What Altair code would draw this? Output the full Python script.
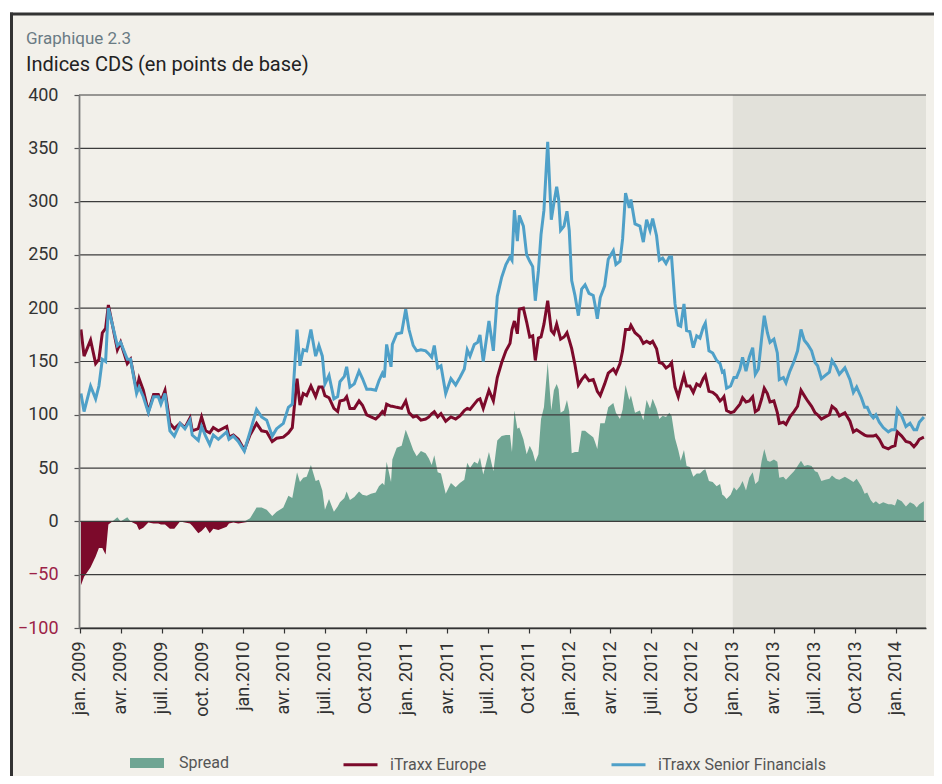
import json
import altair as alt
import pandas as pd

# ---- data (decimal years since Jan 2009, values in basis points) ----
t_offset = [
    0.006, 0.025, 0.065, 0.096, 0.116, 0.137, 0.157, 0.174, 0.198, 0.229, 0.249, 0.290, 0.310,
    0.347, 0.362, 0.388, 0.419, 0.451, 0.480, 0.496, 0.521, 0.551, 0.578, 0.613, 0.643, 0.674,
    0.688, 0.725, 0.745, 0.770, 0.795, 0.817, 0.848, 0.899, 0.913, 0.940, 0.970, 1.007, 1.042,
    1.082, 1.113, 1.144, 1.178, 1.205, 1.246, 1.277,
    1.301, 1.330, 1.348, 1.368, 1.389, 1.415, 1.444, 1.464, 1.485, 1.501, 1.526, 1.556, 1.579,
    1.593, 1.620, 1.634, 1.654, 1.681, 1.710, 1.731, 1.757, 1.783, 1.812, 1.832, 1.853, 1.865,
    1.879, 1.906, 1.914, 1.941, 1.971, 1.996, 2.016, 2.042, 2.063, 2.089, 2.118, 2.138, 2.155,
    2.171, 2.192, 2.212, 2.241, 2.273, 2.302, 2.328, 2.355, 2.373, 2.390, 2.416, 2.437, 2.451,
    2.471, 2.506, 2.533,
    2.557, 2.584, 2.610, 2.635, 2.647, 2.662, 2.680, 2.692, 2.717, 2.737, 2.756, 2.774, 2.790,
    2.809, 2.825, 2.843, 2.866, 2.888, 2.904, 2.921, 2.933, 2.945, 2.966, 2.984, 2.998, 3.013,
    3.033, 3.054, 3.074, 3.095, 3.119, 3.145, 3.155, 3.170, 3.188, 3.215, 3.237, 3.268, 3.284,
    3.309, 3.325, 3.343, 3.366,
    3.376, 3.401, 3.431, 3.452, 3.472, 3.493, 3.509, 3.533, 3.550, 3.570, 3.591, 3.611, 3.625,
    3.646, 3.666, 3.681, 3.701, 3.717, 3.737, 3.758, 3.779, 3.799, 3.819, 3.832, 3.854, 3.877,
    3.901, 3.922, 3.936, 3.946, 3.962, 3.987, 4.007, 4.023,
    4.044, 4.060, 4.081, 4.101, 4.122, 4.138, 4.157, 4.177, 4.193, 4.212, 4.228, 4.252, 4.273,
    4.285, 4.310, 4.326, 4.350, 4.375, 4.397, 4.418, 4.438, 4.459, 4.483, 4.504, 4.520, 4.543,
    4.567, 4.592, 4.608, 4.632, 4.653, 4.687, 4.718, 4.739, 4.759, 4.788, 4.808, 4.824, 4.845,
    4.861, 4.877, 4.898, 4.922, 4.953, 4.973, 4.994, 5.008, 5.035, 5.061, 5.086, 5.110, 5.127,
    5.143, 5.171,
]

itraxx_europe = [
    180, 155, 170, 148, 152, 177, 181, 203, 185, 161, 168, 148, 152,
    123, 134, 123, 103, 119, 119, 113, 123, 92, 87, 92, 88, 97,
    85, 87, 98, 85, 83, 88, 85, 89, 79, 81, 77, 67, 81,
    92, 85, 84, 75, 78, 79, 83,
    88, 134, 109, 120, 118, 127, 117, 126, 126, 118, 116, 106, 103,
    113, 114, 117, 106, 106, 113, 109, 100, 98, 96, 99, 103, 101,
    110, 108, 108, 107, 106, 113, 102, 98, 99, 95, 96, 98, 101,
    103, 98, 101, 94, 98, 96, 99, 104, 106, 105, 110, 114, 115,
    106, 123, 113,
    135, 149, 160, 167, 180, 188, 176, 199, 200, 187, 173, 174, 151,
    172, 173, 185, 207, 179, 176, 185, 178, 171, 173, 177, 170, 162,
    147, 128, 133, 137, 132, 133, 129, 122, 118, 129, 139, 143, 139,
    148, 160, 180, 180,
    184, 177, 173, 167, 169, 167, 169, 162, 149, 148, 144, 146, 149,
    126, 117, 126, 137, 127, 127, 121, 129, 127, 134, 137, 122, 121,
    118, 113, 115, 117, 104, 102, 103, 106,
    110, 116, 112, 113, 117, 103, 105, 115, 125, 120, 112, 113, 102,
    92, 93, 91, 98, 103, 108, 123, 118, 113, 108, 102, 100, 96,
    98, 100, 108, 105, 99, 102, 94, 84, 86, 83, 81, 80, 80,
    80, 81, 77, 70, 68, 70, 71, 84, 80, 75, 74, 70, 73,
    77, 79,
]

itraxx_senior_fin = [
    120, 103, 127, 115, 127, 152, 150, 200, 185, 165, 168, 152, 152,
    120, 126, 117, 102, 117, 117, 110, 120, 85, 80, 92, 87, 95,
    81, 76, 89, 80, 72, 81, 77, 84, 77, 80, 75, 66, 84,
    105, 98, 95, 80, 87, 92, 107,
    110, 180, 146, 161, 160, 180, 155, 165, 155, 129, 137, 115, 117,
    131, 136, 145, 126, 129, 141, 134, 124, 124, 123, 132, 139, 135,
    166, 145, 166, 176, 177, 199, 180, 165, 160, 161, 160, 157, 154,
    165, 144, 146, 120, 134, 128, 135, 143, 161, 155, 166, 168, 175,
    150, 188, 160,
    211, 229, 241, 248, 245, 292, 263, 287, 277, 250, 244, 239, 207,
    235, 269, 292, 356, 283, 299, 314, 302, 273, 277, 291, 273, 226,
    212, 193, 218, 222, 214, 212, 204, 190, 210, 221, 246, 254, 241,
    244, 265, 308, 294,
    302, 279, 277, 262, 283, 273, 284, 268, 245, 247, 242, 248, 248,
    204, 184, 183, 204, 179, 178, 163, 174, 172, 182, 186, 160, 158,
    151, 148, 140, 141, 125, 127, 135, 135,
    143, 154, 141, 154, 163, 138, 143, 172, 193, 177, 168, 171, 158,
    133, 135, 130, 141, 150, 160, 180, 170, 166, 160, 149, 146, 134,
    137, 140, 151, 145, 138, 144, 133, 121, 126, 116, 107, 107, 100,
    97, 100, 93, 88, 84, 86, 86, 105, 99, 89, 92, 86, 86,
    93, 98,
]

x_tick_labels = [
    "jan. 2009", "avr. 2009", "juil. 2009", "oct. 2009", "jan.2010", "avr. 2010",
    "juil. 2010", "Oct 2010", "jan. 2011", "avr. 2011", "juil. 2011", "Oct 2011",
    "jan. 2012", "avr. 2012", "juil. 2012", "Oct 2012", "jan. 2013", "avr. 2013",
    "juil. 2013", "Oct 2013", "jan. 2014",
]
y_ticks = [-100, -50, 0, 50, 100, 150, 200, 250, 300, 350, 400]
series_names = ["iTraxx Europe", "iTraxx Senior Financials"]
shade_start = 2013.0
x_domain = [2008.994, 2014.184]
y_domain = [-100, 400]

# ---- colours ----
C_RED = "#7c0a2b"
C_BLUE = "#4fa0c8"
C_GREEN = "#6fa593"
C_SHADE = "#e2e1da"
C_PANEL = "#f2f0ea"

W, H = 847, 533

df = pd.DataFrame({
    "year": [2009 + v for v in t_offset],
    "europe": itraxx_europe,
    "senior": itraxx_senior_fin,
})
df["spread"] = df["senior"] - df["europe"]
df["pos"] = df["spread"].clip(lower=0)
df["neg"] = df["spread"].clip(upper=0)
df["zero"] = 0
df["lab"] = "Spread"

lines_df = pd.concat([
    pd.DataFrame({"year": df["year"], "value": df["europe"], "series": series_names[0]}),
    pd.DataFrame({"year": df["year"], "value": df["senior"], "series": series_names[1]}),
])

xscale = alt.Scale(domain=x_domain, nice=False, zero=False)
yscale = alt.Scale(domain=y_domain, nice=False, zero=False)

label_expr = json.dumps(x_tick_labels) + "[round((datum.value - 2009) * 4)]"

xaxis = alt.Axis(
    values=[2009 + 0.25 * i for i in range(len(x_tick_labels))],
    labelExpr=label_expr, labelAngle=-90, grid=False, title=None,
    tickSize=5, labelPadding=8, labelFont="Roboto", labelFontSize=18,
    labelColor="#333333", domainColor="#333333", tickColor="#333333",
    domainWidth=1.5, tickWidth=1.2, labelOverlap=False, labelFlush=False, zindex=2,
)
yaxis = alt.Axis(
    values=y_ticks, grid=False, title=None, tickSize=5, labelPadding=16,
    labelFont="Roboto", labelFontSize=18,
    labelColor=alt.condition("datum.value < 0", alt.value("#9c2247"), alt.value("#333333")),
    domainColor="#7a7a7a", tickColor="#555555", domainWidth=1.8, tickWidth=1.2,
    labelFlush=False, zindex=2,
)

X = lambda f: alt.X(f, scale=xscale, axis=xaxis)
Y = lambda f: alt.Y(f, scale=yscale, axis=yaxis)

# panel background and frame (decoration)
deco = pd.DataFrame({"d": [0]})
panel = alt.Chart(deco).mark_rect(color=C_PANEL).encode(
    x=alt.value(-68), x2=alt.value(W + 20), y=alt.value(-81), y2=alt.value(H + 170)
)
frame_left = alt.Chart(deco).mark_rule(color="#333333", strokeWidth=3).encode(
    x=alt.value(-67.5), y=alt.value(-82.5), y2=alt.value(H + 170)
)
frame_top = alt.Chart(deco).mark_rule(color="#333333", strokeWidth=3).encode(
    x=alt.value(-69), x2=alt.value(W + 20), y=alt.value(-81)
)

shade = alt.Chart(pd.DataFrame({"a": [shade_start], "b": [x_domain[1]],
                                "lo": [y_domain[0]], "hi": [y_domain[1]]})).mark_rect(
    color=C_SHADE).encode(x=X("a:Q"), x2="b:Q", y=Y("lo:Q"), y2="hi:Q")

fill_legend = alt.Legend(
    orient="none", legendX=51, legendY=651, direction="horizontal", title=None,
    symbolType="M-1,-0.3H1V0.3H-1Z", symbolSize=1156, symbolStrokeWidth=0,
    labelFont="Roboto", labelFontSize=16, labelColor="#555555", labelOffset=15,
    labelLimit=300, zindex=2,
)
stroke_legend = alt.Legend(
    orient="none", legendX=263, legendY=651, direction="horizontal", title=None,
    symbolType="stroke", symbolSize=1156, symbolStrokeWidth=3,
    labelFont="Roboto", labelFontSize=16, labelColor="#555555", labelOffset=11,
    columnPadding=118, labelLimit=300, zindex=2,
)

pos_area = alt.Chart(df).mark_area(interpolate="linear").encode(
    x=X("year:Q"), y=Y("pos:Q"), y2="zero:Q",
    fill=alt.Fill("lab:N", scale=alt.Scale(domain=["Spread"], range=[C_GREEN]), legend=fill_legend),
)
neg_area = alt.Chart(df).mark_area(interpolate="linear", color=C_RED).encode(
    x=X("year:Q"), y=Y("neg:Q"), y2="zero:Q",
)

grid = alt.Chart(pd.DataFrame({"v": y_ticks})).mark_rule(color="#3c3c3c", strokeWidth=1.2).encode(
    y=Y("v:Q")
)

stroke_scale = alt.Scale(domain=series_names, range=[C_RED, C_BLUE])
line_eu = alt.Chart(lines_df[lines_df.series == series_names[0]]).mark_line(strokeWidth=3).encode(
    x=X("year:Q"), y=Y("value:Q"),
    stroke=alt.Stroke("series:N", scale=stroke_scale, legend=stroke_legend),
)
line_sf = alt.Chart(lines_df[lines_df.series == series_names[1]]).mark_line(strokeWidth=3).encode(
    x=X("year:Q"), y=Y("value:Q"),
    stroke=alt.Stroke("series:N", scale=stroke_scale, legend=stroke_legend),
)

chart = alt.layer(
    panel, frame_left, frame_top, shade, pos_area, neg_area, grid, line_eu, line_sf
).properties(
    width=W, height=H,
    title=alt.TitleParams(
        text="Graphique 2.3", subtitle="Indices CDS (en points de base)",
        anchor="start", frame="group", dx=-53, dy=75, offset=10,
        font="Roboto", fontSize=17, fontWeight="normal", color="#6a7b84",
        subtitleFont="Roboto", subtitleFontSize=20, subtitleColor="#222222",
        subtitlePadding=7, zindex=2,
    ),
    autosize=alt.AutoSizeParams(type="none"),
    padding={"left": 71, "top": 87, "right": 8, "bottom": 148},
    background="white",
).configure_view(stroke=None)

chart.save("out.html", embed_options={"renderer": "svg", "actions": False})
